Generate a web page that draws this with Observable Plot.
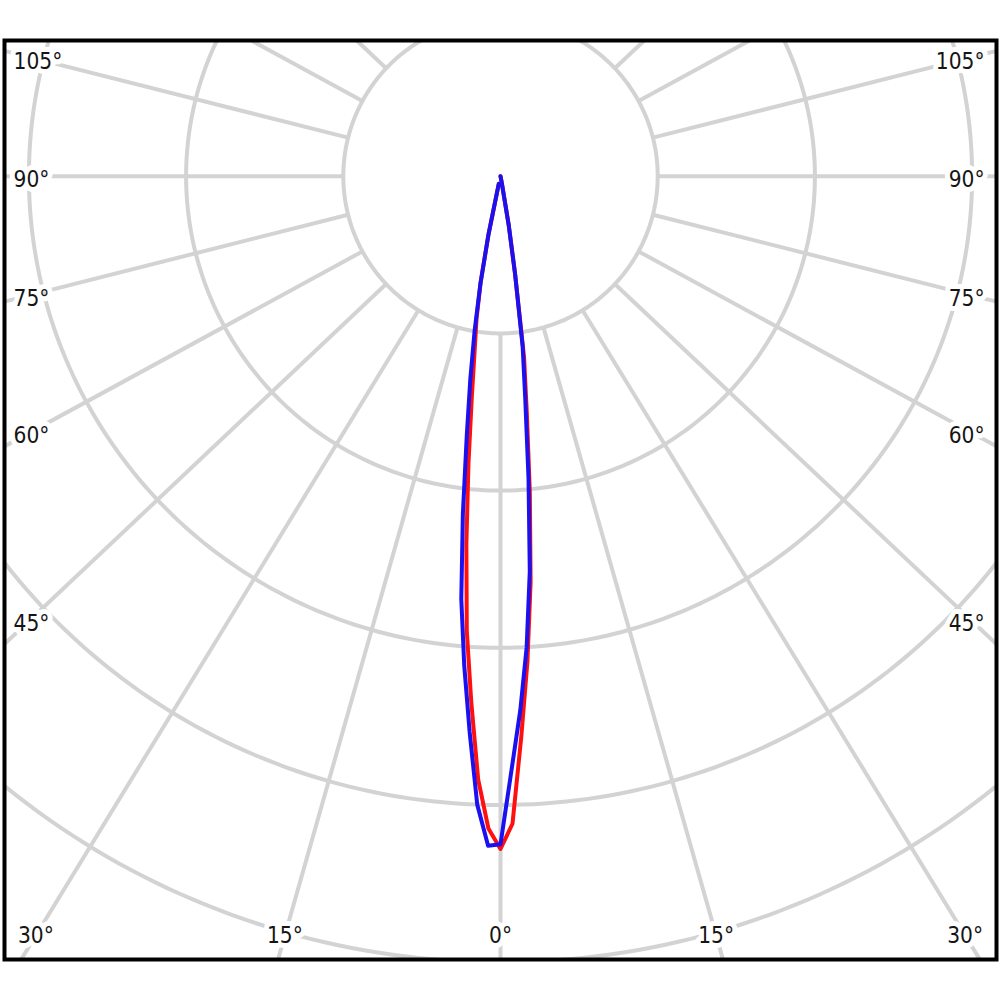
<!DOCTYPE html>
<html>
<head>
<meta charset="utf-8">
<script src="https://cdn.jsdelivr.net/npm/d3@7"></script>
<script src="https://cdn.jsdelivr.net/npm/@observablehq/plot@0.6"></script>
<style>
  body { margin: 0; background: #fff; }
  svg { display: block; }
</style>
</head>
<body>
<div id="chart"></div>
<script>
// Vertical angle (degrees from nadir) and relative luminous intensity (ring units)
const gamma     = [0, 1, 2, 3, 4, 5, 6, 7, 8, 9, 10, 11, 12];
const redLeft   = [4.28, 4.15, 3.84, 3.35, 2.90, 2.35, 1.84, 1.41, 1.11, 0.92, 0.69, 0.38, 0.05];
const redRight  = [4.28, 4.12, 3.57, 3.09, 2.59, 2.02, 1.51, 1.16, 0.63, 0.32, 0.05, 0, 0];
const blueLeft  = [4.25, 4.26, 4.00, 3.54, 3.12, 2.70, 2.16, 1.66, 1.30, 0.99, 0.69, 0.38, 0.05];
const blueRight = [4.25, 3.78, 3.40, 3.00, 2.52, 1.93, 1.42, 1.09, 0.63, 0.32, 0.05, 0, 0];

const rings = [1, 2, 3, 4, 5];
const gridAngles = d3.range(-180, 180, 15);
const sideLabels = [45, 60, 75, 90, 105];
const bottomLabels = [0, 15, 30];

const xStretch = 1.06;          // angular grid is drawn slightly wider than tall
const rad = Math.PI / 180;

function curve(left, right) {
  const pts = [];
  for (let i = gamma.length - 1; i >= 0; i--) {
    const a = gamma[i] * rad;
    pts.push({x: -xStretch * left[i] * Math.sin(a), y: -left[i] * Math.cos(a)});
  }
  for (let i = 0; i < gamma.length; i++) {
    const a = gamma[i] * rad;
    pts.push({x: xStretch * right[i] * Math.sin(a), y: -right[i] * Math.cos(a)});
  }
  return pts;
}

const ringPts = rings.flatMap(r => d3.range(0, 361, 1).map(t => ({
  ring: r, x: r * Math.sin(t * rad), y: r * Math.cos(t * rad)
})));

const spokes = gridAngles.map(a => {
  const dx = xStretch * Math.sin(a * rad), dy = -Math.cos(a * rad);
  const n = Math.hypot(dx, dy);
  return {x1: dx / n, y1: dy / n, x2: 9 * dx / n, y2: 9 * dy / n};
});

const unit = 157.2;
const sideX = 470 / unit;
const sideY = a => -Math.cos(a * rad) / (xStretch * Math.sin(a * rad)) * sideX;
const leftLab = sideLabels.map(a => ({x: -487 / unit, y: sideY(a), t: a + "°"}));
const rightLab = sideLabels.map(a => ({x: 484 / unit, y: sideY(a), t: a + "°"}));
const botY = -(935 - 175.7) / unit;
const botLab = bottomLabels.flatMap(a => {
  const xx = xStretch * Math.tan(a * rad) * -botY;
  return a === 0 ? [{x: 0, y: botY, t: "0°"}]
                 : [{x: -xx, y: botY, t: a + "°"}, {x: xx, y: botY, t: a + "°"}];
});

const gridColor = "#d3d3d3";
const textOpts = {
  fontSize: 22.5,
  fontFamily: "'DejaVu Sans Condensed', 'Open Sans', sans-serif",
  fill: "#151515", stroke: "white", strokeWidth: 10
};

const chart = Plot.plot({
  width: 1000,
  height: 1000,
  marginTop: 40,
  marginBottom: 41,
  marginLeft: 4,
  marginRight: 4,
  x: {domain: [-496 / unit, 496 / unit], axis: null},
  y: {domain: [-(959 - 175.7) / unit, (175.7 - 40) / unit], axis: null},
  marks: [
    Plot.line(ringPts, {x: "x", y: "y", z: "ring", stroke: gridColor, strokeWidth: 4, clip: true}),
    Plot.link(spokes, {x1: "x1", y1: "y1", x2: "x2", y2: "y2", stroke: gridColor, strokeWidth: 4, clip: true}),
    Plot.line(curve(redLeft, redRight), {x: "x", y: "y", stroke: "#ff1010", strokeWidth: 4, curve: "linear"}),
    Plot.line(curve(blueLeft, blueRight), {x: "x", y: "y", stroke: "#1a10f0", strokeWidth: 4, curve: "linear"}),
    Plot.text(leftLab, {x: "x", y: "y", text: "t", textAnchor: "start", dy: 4, ...textOpts}),
    Plot.text(rightLab, {x: "x", y: "y", text: "t", textAnchor: "end", dy: 4, ...textOpts}),
    Plot.text(botLab, {x: "x", y: "y", text: "t", textAnchor: "middle", ...textOpts}),
    Plot.frame({stroke: "black", strokeWidth: 4})
  ]
});
document.getElementById("chart").appendChild(chart);
</script>
</body>
</html>
